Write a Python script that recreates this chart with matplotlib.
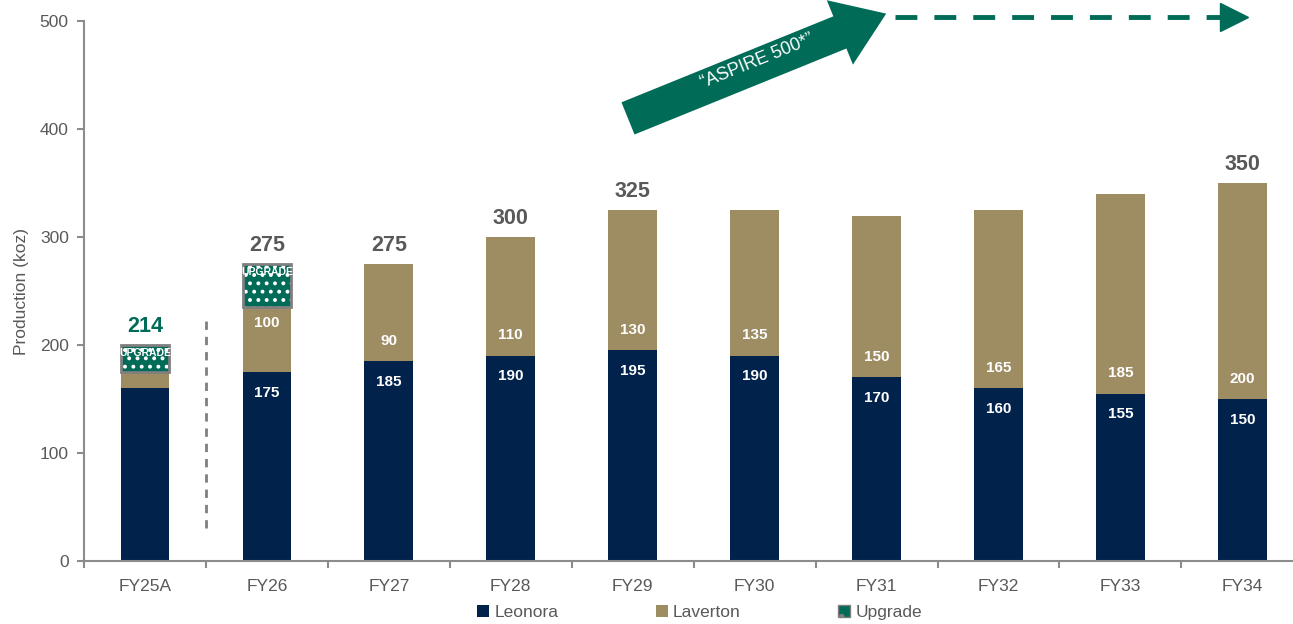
import numpy as np
import matplotlib
matplotlib.use("Agg")
import matplotlib.pyplot as plt
from matplotlib.patches import FancyArrowPatch, Patch

# data
years = ["FY25A", "FY26", "FY27", "FY28", "FY29", "FY30", "FY31", "FY32", "FY33", "FY34"]
leonora = [160, 175, 185, 190, 195, 190, 170, 160, 155, 150]
laverton = [15, 60, 90, 110, 130, 135, 150, 165, 185, 200]
upgrade = [25, 40, 0, 0, 0, 0, 0, 0, 0, 0]
leonora_labels = [None, "175", "185", "190", "195", "190", "170", "160", "155", "150"]
laverton_labels = [None, "100", "90", "110", "130", "135", "150", "165", "185", "200"]
total_labels = ["214", "275", "275", "300", "325", None, None, None, None, "350"]

navy = "#00224B"
tan = "#9E8C63"
green = "#006B56"
grey = "#595959"
axis_grey = "#8C8C8C"

plt.rcParams['font.family'] = ['Liberation Sans Narrow', 'Liberation Sans', 'DejaVu Sans']
plt.rcParams['hatch.linewidth'] = 1.6

fig = plt.figure(figsize=(12.93, 6.24), dpi=100)
ax = fig.add_axes([0.065, 0.101, 0.943, 0.865])

x = np.arange(len(years))
w = 0.4
lev = np.array(leonora)
lav = np.array(laverton)
upg = np.array(upgrade)

ax.bar(x, lev, w, color=navy, zorder=2)
ax.bar(x, lav, w, bottom=lev, color=tan, zorder=2)

# upgrade blocks: green with white dots + grey outline
m = upg > 0
ax.bar(x[m], upg[m], w, bottom=(lev + lav)[m], color=green, edgecolor="white",
       linewidth=0, hatch="..", zorder=2)
ax.bar(x[m], upg[m], w, bottom=(lev + lav)[m], fill=False, edgecolor="#7F7F7F",
       linewidth=2, zorder=3)
for i in x[m]:
    top = lev[i] + lav[i] + upg[i]
    ax.text(i, top - 3, "UPGRADE", ha="center", va="top", color="white",
            fontsize=7.5, fontweight="bold", zorder=4)

# labels inside bars
for i in range(len(years)):
    if leonora_labels[i]:
        ax.text(i, lev[i] - 19, leonora_labels[i], ha="center", va="center",
                color="white", fontsize=11, fontweight="bold", zorder=4)
    if laverton_labels[i]:
        off = 45 if upg[i] > 0 else 19
        ax.text(i, lev[i] + off, laverton_labels[i], ha="center", va="center",
                color="white", fontsize=11, fontweight="bold", zorder=4)
    if total_labels[i]:
        top = lev[i] + lav[i] + upg[i]
        c = green if i == 0 else grey
        ax.annotate(total_labels[i], (i, top), xytext=(0, 6), textcoords="offset points",
                    ha="center", va="bottom", fontsize=15.5, fontweight="bold", color=c)

# divider between actual and forecast
ax.plot([0.5, 0.5], [31, 225], color="#7F7F7F", lw=2, ls=(0, (3, 2.5)), zorder=1)

# "Aspire 500" arrow
arr = FancyArrowPatch((3.94, 409), (6.1, 508),
                      arrowstyle="simple,head_width=2.5,head_length=1.8,tail_width=1.25",
                      mutation_scale=20, color=green, clip_on=False, zorder=5, lw=0)
ax.add_patch(arr)
ax.text(5.02, 463, "\u201cASPIRE 500*\u201d", rotation=22, ha="center", va="center",
        color="white", fontsize=13, zorder=6, rotation_mode="anchor")
ax.plot([6.15, 8.86], [504, 504], color=green, lw=3.5, ls=(0, (4.5, 3.5)), clip_on=False,
        solid_capstyle="butt", dash_capstyle="butt", zorder=5)
ax.plot([8.93], [504], marker=">", markersize=20, color=green, clip_on=False,
        zorder=5, linestyle="none")

ax.set_xlim(-0.5, 9.5)
ax.set_ylim(0, 500)
ax.set_yticks([0, 100, 200, 300, 400, 500])
ax.set_xticks(x)
ax.set_xticklabels(years)
ax.set_xticks(np.arange(-0.5, 10, 1), minor=True)
ax.tick_params(axis="x", which="major", length=0, pad=13, labelsize=12.5, labelcolor=grey)
ax.tick_params(axis="x", which="minor", length=5, width=1.5, color=axis_grey, direction="out")
ax.tick_params(axis="y", length=5, width=1.5, color=axis_grey, labelsize=12.5,
               labelcolor=grey, pad=6)
for s in ["top", "right"]:
    ax.spines[s].set_visible(False)
for s in ["left", "bottom"]:
    ax.spines[s].set_color(axis_grey)
    ax.spines[s].set_linewidth(1.5)
ax.set_ylabel("Production (koz)", color=grey, fontsize=12.5, labelpad=8)

handles = [Patch(facecolor=navy, label="Leonora"),
           Patch(facecolor=tan, label="Laverton"),
           Patch(facecolor=green, edgecolor="#7F7F7F", hatch=".", label="Upgrade")]
leg = fig.legend(handles=handles, loc="center", bbox_to_anchor=(0.541, 0.018), ncol=3,
                 frameon=False, fontsize=12.5, handlelength=0.7, handleheight=0.7,
                 handletextpad=0.3, columnspacing=5.6, borderpad=0)
for t in leg.get_texts():
    t.set_color(grey)

fig.savefig("out.png", dpi=100)
